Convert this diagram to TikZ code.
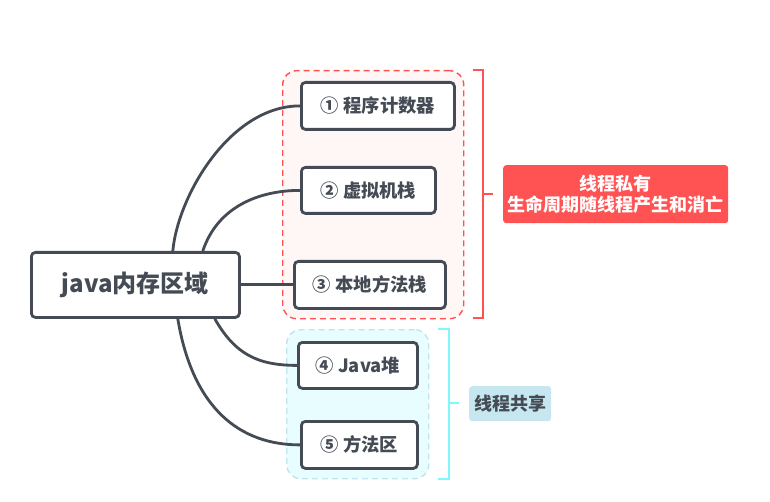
\documentclass[tikz,border=0pt]{standalone}
\usepackage{fontspec}
\setmainfont{Noto Sans CJK SC}
\definecolor{dk}{HTML}{454B54}
\definecolor{rd}{HTML}{FF5353}
\definecolor{pk}{HTML}{FFF6F6}
\definecolor{cyf}{HTML}{E8FDFF}
\definecolor{cyd}{HTML}{BFE5EE}
\definecolor{cyb}{HTML}{7FF7FF}
\definecolor{lbf}{HTML}{C6E7F0}
\tikzset{
  box/.style={draw=dk, line width=2.8pt, rounded corners=4pt, fill=white, inner sep=0pt, font=\fontsize{18.3}{20}\selectfont\bfseries, text=dk},
  conn/.style={draw=dk, line width=2.8pt},
  grp/.style={dashed, line width=1.4pt, rounded corners=14pt, dash pattern=on 6pt off 4pt},
}
\begin{document}
\begin{tikzpicture}[x=1pt,y=-1pt]
\useasboundingbox (0,0) rectangle (770,502);
% groups
\node[grp, draw=rd, fill=pk, minimum width=181pt, minimum height=248pt, anchor=north west] (g1) at (282,70) {};
\node[grp, draw=cyd, fill=cyf, minimum width=142pt, minimum height=149pt, anchor=north west] (g2) at (286,329) {};
% root
\node[box, minimum width=208pt, minimum height=65pt, anchor=north west, font=\fontsize{24}{26}\selectfont\bfseries] (root) at (30,251) {java内存区域};
% boxes
\node[box, minimum width=153pt, minimum height=47pt, anchor=north west] (b1) at (300,81) {① 程序计数器};
\node[box, minimum width=134pt, minimum height=46pt, anchor=north west] (b2) at (300,166) {② 虚拟机栈};
\node[box, minimum width=151pt, minimum height=47pt, anchor=north west] (b3) at (293,260) {③ 本地方法栈};
\node[box, minimum width=119pt, minimum height=46pt, anchor=north west] (b4) at (297,341) {④ Java堆};
\node[box, minimum width=116pt, minimum height=47pt, anchor=north west] (b5) at (300,420) {⑤ 方法区};
% connectors
\coordinate (r1) at ([xshift=-38pt]root.north east);
\coordinate (r2) at ([xshift=-68pt]root.north east);
\coordinate (r4) at ([xshift=-26pt]root.south east);
\coordinate (r5) at ([xshift=-63pt]root.south east);
\draw[conn] (r2) .. controls +(5,-55) and +(-70,0) .. (b1.west);
\draw[conn] (r1) .. controls +(15,-45) and +(-40,0) .. (b2.west);
\draw[conn] (root.east) -- (b3.west);
\draw[conn] (r4) .. controls +(20,35) and +(-40,0) .. (b4.west);
\draw[conn] (r5) .. controls +(15,90) and +(-60,0) .. (b5.west);
% red bracket
\coordinate (rt) at (473,70);
\coordinate (rb) at (473,318);
\coordinate (rm) at (493,194);
\draw[rd, line width=1.6pt] (rt) -- (483,70) -- (483,318) -- (rb);
\draw[rd, line width=1.6pt] (483,194) -- (rm);
\node[fill=rd, rounded corners=3pt, minimum width=225pt, minimum height=58pt, anchor=north west, text=white, align=center, font=\fontsize{18}{21}\selectfont\bfseries, inner sep=0pt] (lab1) at (503,165) {线程私有\\生命周期随线程产生和消亡};
% cyan bracket
\coordinate (ct) at (438,329);
\coordinate (cb) at (438,479);
\coordinate (cm) at (459,403);
\draw[cyb, line width=1.6pt] (ct) -- (449,329) -- (449,479) -- (cb);
\draw[cyb, line width=1.6pt] (449,403) -- (cm);
\node[fill=lbf, rounded corners=3pt, minimum width=82pt, minimum height=35pt, anchor=north west, text=dk, font=\fontsize{18}{20}\selectfont\bfseries, inner sep=0pt] (lab2) at (469,386) {线程共享};
\end{tikzpicture}
\end{document}
